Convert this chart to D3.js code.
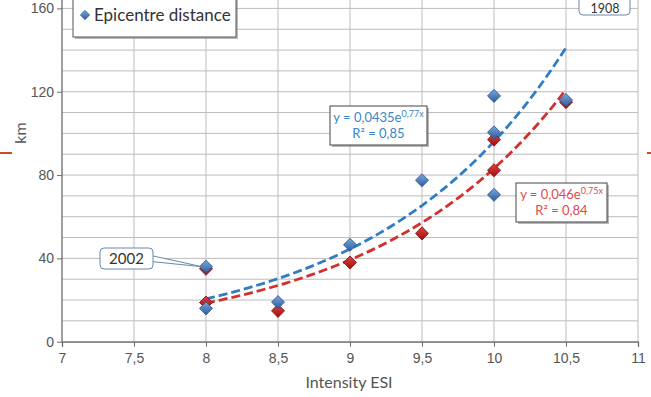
<!DOCTYPE html>
<html>
<head>
<meta charset="utf-8">
<script src="https://cdn.jsdelivr.net/npm/d3@7"></script>
<style>
  body { margin: 0; background: #fff; }
  svg { display: block; font-family: Lato, "Open Sans", sans-serif; }
</style>
</head>
<body>
<svg width="651" height="397"></svg>
<script>
var width = 651;
var height = 397;

// epicentre distance (blue) and second series (red)
var blueX = [8, 8, 8.5, 9, 9.5, 10, 10, 10, 10.5];
var blueY = [36, 16, 19, 46.5, 77.5, 118, 100.5, 70.5, 116];
var redX = [8, 8, 8.5, 9, 9.5, 10, 10, 10.5];
var redY = [35, 18.8, 14.8, 38, 52, 97, 82.3, 115];

// exponential trendlines y = a * e^(b x)
var blueTrend = {a: 0.0435, b: 0.77};
var redTrend = {a: 0.046, b: 0.75};
var trendRange = [8, 10.5];

var xTicks = [7, 7.5, 8, 8.5, 9, 9.5, 10, 10.5, 11];
var yTicks = [0, 40, 80, 120, 160];
var yMinor = [10, 20, 30, 50, 60, 70, 90, 100, 110, 130, 140, 150, 170];

var fmt = d => String(d).replace(".", ",");

var svg = d3.select("svg");

var xScale = d3.scaleLinear().domain([7, 11]).range([62, 638]);
var yScale = d3.scaleLinear().domain([0, 160]).range([341.7, 8.4]);

var defs = svg.append("defs");
function grad(id, c1, c2) {
  var g = defs.append("linearGradient").attr("id", id)
      .attr("x1", 0).attr("y1", 0).attr("x2", 1).attr("y2", 1);
  g.append("stop").attr("offset", "0%").attr("stop-color", c1);
  g.append("stop").attr("offset", "100%").attr("stop-color", c2);
}
grad("gBlue", "#7aa6dc", "#2b5d9c");
grad("gRed", "#e0443f", "#9c0f12");

// grid
svg.append("g")
  .selectAll("line")
  .data(yTicks.concat(yMinor))
  .enter().append("line")
    .attr("x1", xScale(7)).attr("x2", xScale(11))
    .attr("y1", d => yScale(d)).attr("y2", d => yScale(d))
    .attr("stroke", "#bcbcbc").attr("stroke-width", 1);

svg.append("g")
  .selectAll("line")
  .data(xTicks.slice(1))
  .enter().append("line")
    .attr("x1", d => xScale(d)).attr("x2", d => xScale(d))
    .attr("y1", yScale(0)).attr("y2", -5)
    .attr("stroke", "#bcbcbc").attr("stroke-width", 1);

// axes
var xAxis = svg.append("g")
    .attr("transform", "translate(0," + yScale(0) + ")")
    .call(d3.axisBottom(xScale).tickValues(xTicks).tickFormat(fmt).tickSizeOuter(0).tickSize(5));
var yAxis = svg.append("g")
    .attr("transform", "translate(" + xScale(7) + ",0)")
    .call(d3.axisLeft(yScale).tickValues(yTicks).tickSizeOuter(0).tickSize(5));
yAxis.select(".domain").attr("d", "M0," + yScale(0) + "V-5");

[xAxis, yAxis].forEach(function(a) {
  a.select(".domain").attr("stroke", "#6a6a6a").attr("stroke-width", 1.3);
  a.selectAll(".tick line").attr("stroke", "#6a6a6a");
  a.selectAll(".tick text").attr("fill", "#555").style("font-size", "14px");
});
xAxis.selectAll(".tick text").attr("dy", "0.95em");

svg.append("text")
    .attr("x", 349).attr("y", 388)
    .attr("text-anchor", "middle")
    .attr("fill", "#555").style("font-size", "16px")
    .text("Intensity ESI");

svg.append("text")
    .attr("transform", "translate(26,133) rotate(-90)")
    .attr("text-anchor", "middle")
    .attr("fill", "#555").style("font-size", "16px")
    .text("km");

// trendlines
function trendPoints(t) {
  return d3.range(trendRange[0], trendRange[1] + 0.001, 0.05)
    .map(x => [x, t.a * Math.exp(t.b * x)]);
}
var line = d3.line().x(d => xScale(d[0])).y(d => yScale(d[1]));

svg.append("path")
    .attr("d", line(trendPoints(blueTrend)))
    .attr("fill", "none").attr("stroke", "#2f7dc3").attr("stroke-width", 2.8)
    .attr("stroke-dasharray", "9,4");
svg.append("path")
    .attr("d", line(trendPoints(redTrend)))
    .attr("fill", "none").attr("stroke", "#d2302f").attr("stroke-width", 2.8)
    .attr("stroke-dasharray", "9,4");

// markers
var diamond = d3.symbol().type(d3.symbolSquare).size(85);
function drawPoints(xs, ys, fill, stroke) {
  svg.append("g")
    .selectAll("path")
    .data(xs.map((x, i) => [x, ys[i]]))
    .enter().append("path")
      .attr("d", diamond)
      .attr("transform", d => "translate(" + xScale(d[0]) + "," + yScale(d[1]) + ") rotate(45)")
      .attr("fill", fill).attr("stroke", stroke).attr("stroke-width", 0.8);
}
drawPoints(redX, redY, "url(#gRed)", "#8a0c0e");
drawPoints(blueX, blueY, "url(#gBlue)", "#2a5590");

// boxes with shadow
function box(x, y, w, h, stroke, r) {
  svg.append("rect")
      .attr("x", x + 2).attr("y", y + 2).attr("width", w).attr("height", h)
      .attr("rx", r).attr("fill", "#8a8a8a").attr("opacity", 0.6);
  svg.append("rect")
      .attr("x", x).attr("y", y).attr("width", w).attr("height", h)
      .attr("rx", r).attr("fill", "#fff").attr("stroke", stroke).attr("stroke-width", 1);
}

// legend
box(73, -10, 163, 47, "#555", 0);
svg.append("path")
    .attr("d", d3.symbol().type(d3.symbolSquare).size(44))
    .attr("transform", "translate(85,15) rotate(45)")
    .attr("fill", "url(#gBlue)").attr("stroke", "#2a5590").attr("stroke-width", 0.6);
svg.append("text")
    .attr("x", 94).attr("y", 21)
    .attr("fill", "#333").style("font-size", "17px")
    .text("Epicentre distance");

// equation labels
function equation(x, y, w, h, color, a, b, r2) {
  box(x, y, w, h, "#444", 0);
  var t = svg.append("text")
      .attr("x", x + w / 2).attr("y", y + 16)
      .attr("text-anchor", "middle")
      .attr("fill", color).style("font-size", "13px");
  t.append("tspan").text("y = " + fmt(a) + "e");
  t.append("tspan").attr("dy", -5).style("font-size", "9px").text(fmt(b) + "x");
  svg.append("text")
      .attr("x", x + w / 2).attr("y", y + h - 7)
      .attr("text-anchor", "middle")
      .attr("fill", color).style("font-size", "13px")
      .text("R² = " + r2);
}
equation(330, 106, 97, 39, "#3a86c8", blueTrend.a, blueTrend.b, "0,85");
equation(516, 183, 91, 39, "#e04848", redTrend.a, redTrend.b, "0,84");

// callouts
function callout(x, y, w, h, txt, px, py) {
  svg.append("path")
      .attr("d", "M" + (x + w - 2) + "," + (y + h / 2 - 3) + "L" + px + "," + py + "L" + (x + w - 2) + "," + (y + h / 2 + 3))
      .attr("fill", "#fff").attr("stroke", "#6a88a8").attr("stroke-width", 1);
  svg.append("rect")
      .attr("x", x).attr("y", y).attr("width", w).attr("height", h)
      .attr("rx", 4).attr("fill", "#fff").attr("stroke", "#6a88a8").attr("stroke-width", 1);
  svg.append("text")
      .attr("x", x + w / 2).attr("y", y + h - 5)
      .attr("text-anchor", "middle")
      .attr("fill", "#333").style("font-size", "15px")
      .text(txt);
}
callout(100, 248, 53, 21, "2002", xScale(8) - 4, yScale(36));
svg.append("rect")
    .attr("x", 579).attr("y", -10).attr("width", 51).attr("height", 25)
    .attr("rx", 4).attr("fill", "#fff").attr("stroke", "#6a88a8");
svg.append("text")
    .attr("x", 605).attr("y", 13).attr("text-anchor", "middle")
    .attr("fill", "#333").style("font-size", "12.5px").text("1908");

// slide decoration marks
svg.append("line").attr("x1", 0).attr("x2", 12).attr("y1", 153).attr("y2", 153)
    .attr("stroke", "#d2491c").attr("stroke-width", 2);
svg.append("line").attr("x1", 647).attr("x2", 651).attr("y1", 153).attr("y2", 153)
    .attr("stroke", "#d2491c").attr("stroke-width", 2);
</script>
</body>
</html>
